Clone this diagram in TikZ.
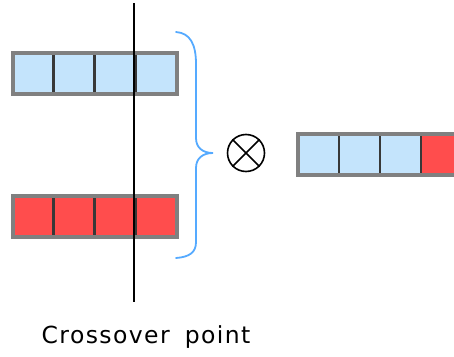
\documentclass[tikz,border=0pt]{standalone}
\usepackage{fontspec}
\newfontfamily\labelfont[LetterSpace=6]{DejaVu Sans}
\usetikzlibrary{positioning}
\definecolor{geneblue}{HTML}{C4E4FC}
\definecolor{genered}{HTML}{FF4D4D}
\definecolor{bracecol}{HTML}{55AAFF}

\begin{document}
\begin{tikzpicture}
[x=1pt,y=-1pt,node distance=0pt,
 gene/.style={rectangle,minimum size=41pt,inner sep=0pt,outer sep=0pt,draw=black!78,line width=2.8pt},
 blue gene/.style={gene,fill=geneblue},
 red gene/.style={gene,fill=genered},
 frame/.style={draw=black!50,line width=4pt},
 cut/.style={draw=black,line width=2.8pt},
 bracket/.style={draw=bracecol,line width=1.8pt,line cap=round}]
\clip (0,0) rectangle (454,356);

% parent one
\node[blue gene] (t1) at (33,73.5) {};
\node[blue gene] (t2) [right=of t1] {};
\node[blue gene] (t3) [right=of t2] {};
\node[blue gene] (t4) [right=of t3] {};
\draw[frame] (t1.north west) rectangle (t4.south east);

% parent two
\node[red gene] (b1) at (33,216) {};
\node[red gene] (b2) [right=of b1] {};
\node[red gene] (b3) [right=of b2] {};
\node[red gene] (b4) [right=of b3] {};
\draw[frame] (b1.north west) rectangle (b4.south east);

% crossover point
\coordinate (cuttop) at (134,3);
\coordinate (cutbot) at (134,302);
\draw[cut] (cuttop) -- (cutbot);
\node[font=\labelfont\fontsize{23.5}{28}\selectfont,anchor=base] (cplabel) at (146,343) {Crossover\hspace{15pt}point};

% bracket
\coordinate (brtop) at (176,32);
\coordinate (brtip) at (213,153);
\coordinate (brbot) at (176,258);
\draw[bracket] (brtop) .. controls (190,33) and (196,44) .. (196,64) -- (196,138)
  .. controls (196,148) and (203,153) .. (brtip)
  .. controls (203,153) and (196,158) .. (196,168) -- (196,242)
  .. controls (196,252) and (190,257) .. (brbot);

% operator
\node[circle,draw,line width=1.6pt,minimum size=37pt,inner sep=0pt] (op) at (246,153) {};
\draw[line width=1.6pt] (op.north west) -- (op.south east)
  (op.north east) -- (op.south west);

% child
\node[blue gene] (c1) at (318.5,154.5) {};
\node[blue gene] (c2) [right=of c1] {};
\node[blue gene] (c3) [right=of c2] {};
\node[red gene] (c4) [right=of c3] {};
\draw[frame] (c1.north west) rectangle (c4.south east);
\end{tikzpicture}
\end{document}
